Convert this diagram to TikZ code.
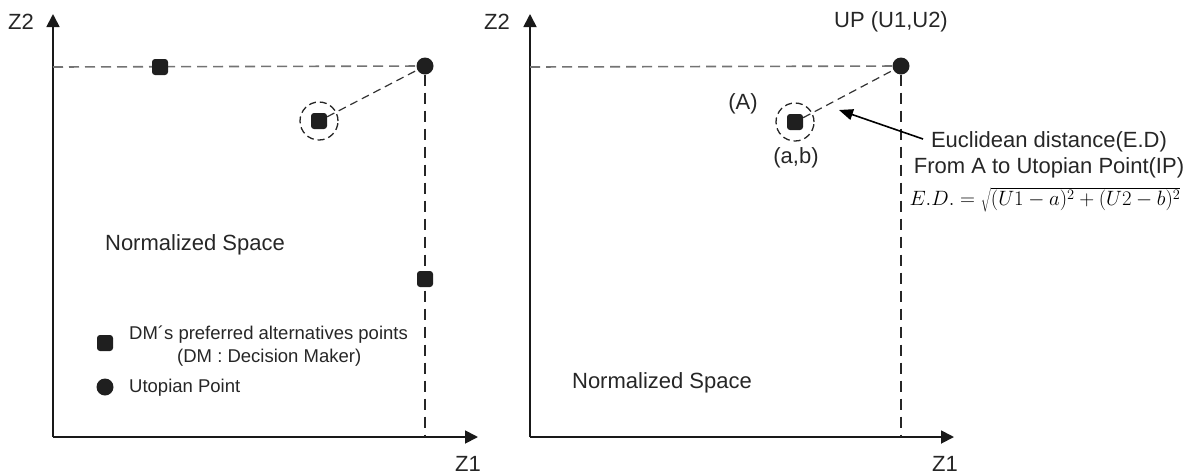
\documentclass[tikz,border=0pt]{standalone}
\usepackage{fontspec}
\setmainfont{Liberation Sans}
\usetikzlibrary{arrows.meta, positioning}
\tikzset{
  axis/.style={line width=1.8pt, black!90, -{Triangle[length=13pt,width=13pt]}},
  hdash/.style={line width=1.6pt, black!55, dash pattern=on 10pt off 6pt},
  vdash/.style={line width=1.2pt, black!85, dash pattern=on 11pt off 7pt},
  sqpt/.style={rectangle, rounded corners=3pt, fill=black!88, minimum size=16pt, inner sep=0pt},
  uppt/.style={circle, fill=black!88, minimum size=17pt, inner sep=0pt},
  ring/.style={circle, draw=black!85, dash pattern=on 7pt off 4pt, line width=1.3pt, minimum size=38pt, inner sep=0pt},
  lbl/.style={text=black!85, font=\fontsize{22}{26}\selectfont, inner sep=0pt},
  leg/.style={text=black!85, font=\fontsize{18.5}{22}\selectfont, inner sep=0pt, anchor=west}
}
\begin{document}
\begin{tikzpicture}[x=1pt, y=-1pt]
  \useasboundingbox (0,0) rectangle (1197,475);

  % --- LEFT PANEL ---
  % Axes
  \coordinate (lo) at (53,437);
  \coordinate (lx) at (478,437);
  \coordinate (ly) at (53,14);
  \draw[axis] (lo) -- (lx);
  \draw[axis] (lo) -- (ly);
  \node[lbl] (lz1) at (468,464) {Z1};
  \node[lbl] (lz2) at (21,22) {Z2};

  % Utopian point and its dashed guides
  \node[uppt] (lup) at (425,66) {};
  \coordinate (lh) at (53,67);
  \coordinate (lv) at (425,437);
  \draw[hdash] (lh) -- (lup);
  \draw[vdash] (lup) -- (lv);

  % Preferred alternatives
  \node[sqpt] (lp1) at (160,67) {};
  \node[sqpt] (lp2) at (425,279) {};
  \node[sqpt] (lp3) at (319,121) {};
  \node[ring] (lr3) at (lp3) {};
  \draw[hdash, black!80, line width=1.2pt, dash pattern=on 8pt off 5pt] (lp3) -- (lup);

  \node[lbl] (lns) at (195,245) {Normalized Space};

  % Legend
  \node[sqpt] (lgsq) at (105,343) {};
  \node[leg] (lgt1) at (129,335) {DM´s preferred alternatives points};
  \node[leg] (lgt2) at (177,358) {(DM : Decision Maker)};
  \node[uppt] (lgci) at (105,387) {};
  \node[leg] (lgt3) at (129,388) {Utopian Point};

  % --- RIGHT PANEL ---
  % Axes
  \coordinate (ro) at (530,437);
  \coordinate (rx) at (954,437);
  \coordinate (ry) at (530,14);
  \draw[axis] (ro) -- (rx);
  \draw[axis] (ro) -- (ry);
  \node[lbl] (rz1) at (945,464) {Z1};
  \node[lbl] (rz2) at (497,22) {Z2};

  % Utopian point and its dashed guides
  \node[uppt] (rup) at (901,66) {};
  \node[lbl] (rupl) at (891,22) {UP (U1,U2)};
  \coordinate (rh) at (530,67);
  \coordinate (rv) at (901,437);
  \draw[hdash] (rh) -- (rup);
  \draw[vdash] (rup) -- (rv);

  % Point A
  \node[sqpt] (ra) at (795,122) {};
  \node[ring] (rra) at (ra) {};
  \node[lbl] (ral) at (743,104) {(A)};
  \node[lbl] (rab) at (796,158) {(a,b)};
  \draw[hdash, black!80, line width=1.2pt, dash pattern=on 8pt off 5pt] (ra) -- (rup);

  % Distance note
  \coordinate (rtail) at (923,139);
  \coordinate (rhead) at (839,110);
  \draw[line width=1.6pt, -{Triangle[length=14pt,width=11pt]}] (rtail) -- (rhead);
  \node[lbl, align=center] (red) at (1049,155) {Euclidean distance(E.D)\\From A to Utopian Point(IP)};
  \node[inner sep=0pt, font=\fontsize{20}{24}\selectfont] (rform) at (1045,200)
    {$E.D.=\sqrt{(U1-a)^2+(U2-b)^2}$};

  \node[lbl] (rns) at (662,383) {Normalized Space};
\end{tikzpicture}
\end{document}
